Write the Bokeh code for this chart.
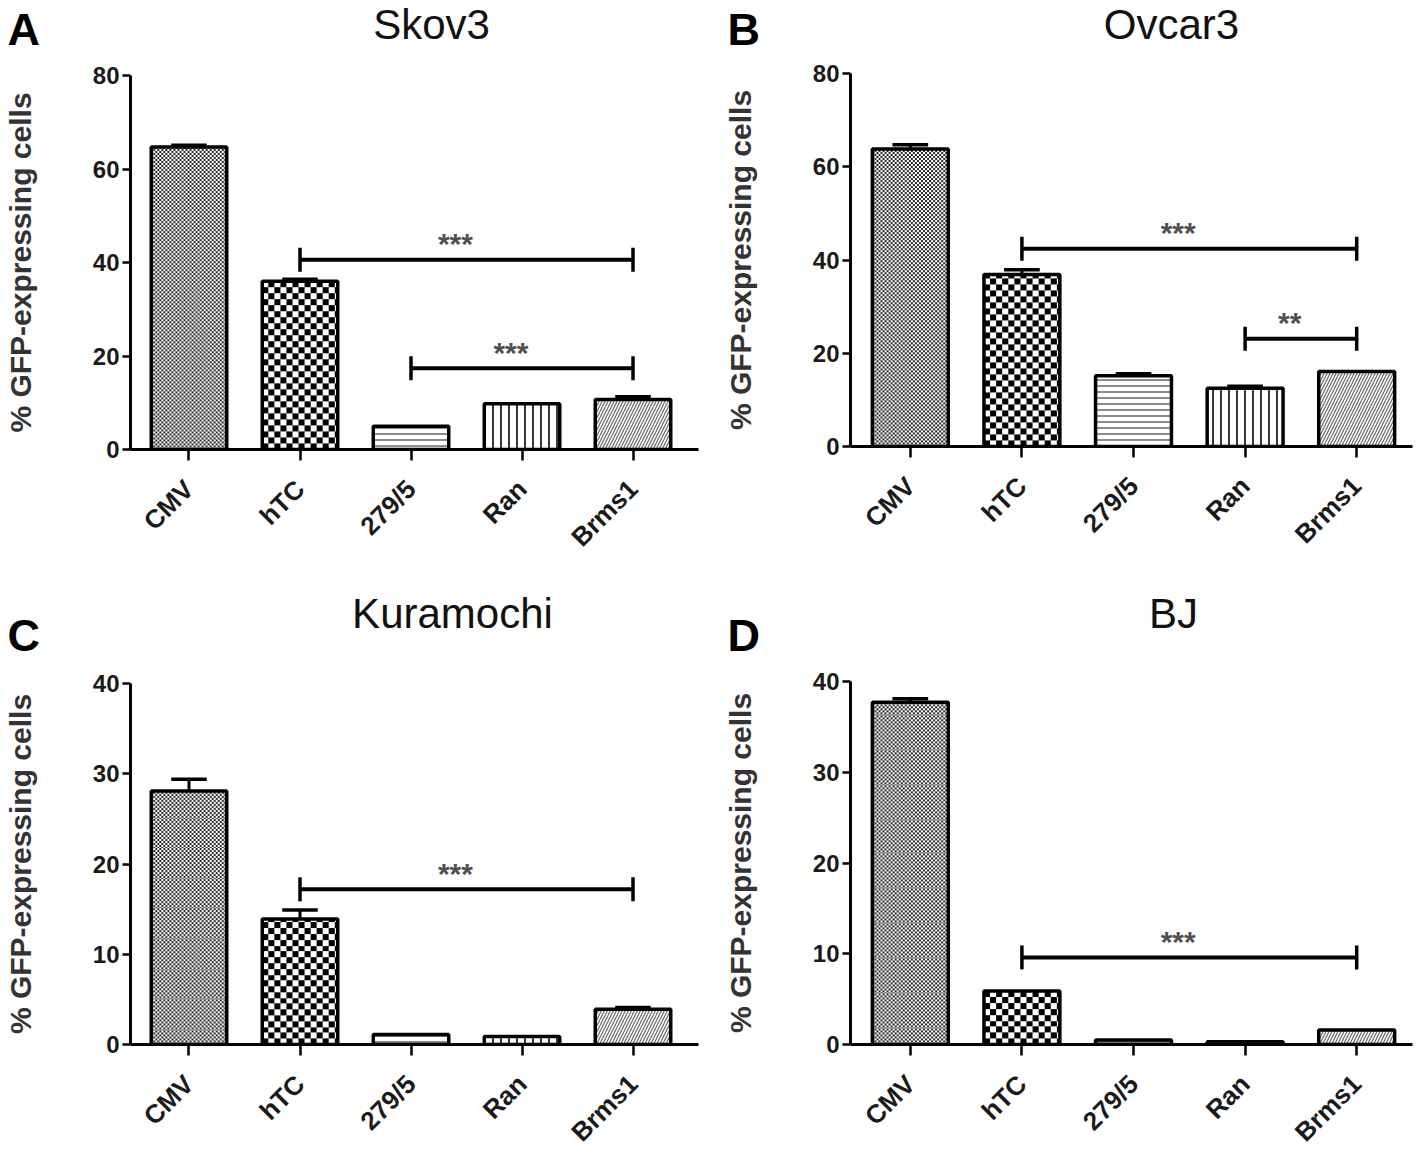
import numpy as np
from math import pi
from bokeh.plotting import figure
from bokeh.layouts import column, row
from bokeh.models import ColumnDataSource, Range1d, FixedTicker
from bokeh.embed import file_html
from bokeh.resources import INLINE
from bokeh.core.properties import value

# ---------------- data ----------------
categories = ["CMV", "hTC", "279/5", "Ran", "Brms1"]

skov3_values = [64.7, 36.0, 5.0, 9.8, 10.7]
skov3_errors = [0.4, 0.4, 0.0, 0.0, 0.6]
ovcar3_values = [63.8, 36.9, 15.2, 12.5, 16.1]
ovcar3_errors = [0.9, 1.0, 0.4, 0.4, 0.0]
kuramochi_values = [28.1, 13.9, 1.1, 0.9, 3.9]
kuramochi_errors = [1.3, 1.0, 0.0, 0.0, 0.2]
bj_values = [37.7, 5.9, 0.5, 0.3, 1.6]
bj_errors = [0.4, 0.0, 0.0, 0.0, 0.0]

skov3_brackets = [("hTC", "Brms1", 40.6, "***"), ("279/5", "Brms1", 17.4, "***")]
ovcar3_brackets = [("hTC", "Brms1", 42.4, "***"), ("Ran", "Brms1", 23.1, "**")]
kuramochi_brackets = [("hTC", "Brms1", 17.2, "***")]
bj_brackets = [("hTC", "Brms1", 9.6, "***")]

yticks_80 = [0, 20, 40, 60, 80]
yticks_40 = [0, 10, 20, 30, 40]

# ---------------- styles ----------------
FONT = "Liberation Sans"
BAR_W = 0.68
PX_PER_CAT = 112.0
bar_patterns = ["blank", "blank", "horizontal_line", "vertical_line", "right_diagonal_line"]
bar_hscales = [4, 12, 6, 8, 6]
bar_hweights = [1, 1, 1.4, 1.8, 1.2]
bar_hcolors = ["#262626", "#000000", "#5a5a5a", "#222222", "#666666"]
bar_falpha = [0.0, 0.0, 1.0, 1.0, 1.0]
# checkerboard fills: (category index, cell size px, dark colour)
checker_fills = [(0, 2, (45, 45, 45)), (1, 6, (0, 0, 0))]

LETTER_FS = 45
TITLE_FS = 42
BASELINE_SHIFT = 0.35  # empirical correction of the rendered baseline (em)


def checker_image(w_px, h_px, cell, rgb):
    rr, cc = np.mgrid[0:h_px, 0:w_px]
    dark = ((rr // cell + cc // cell) % 2) == 0
    img = np.empty((h_px, w_px), dtype=np.uint32)
    view = img.view(dtype=np.uint8).reshape((h_px, w_px, 4))
    view[..., 3] = 255
    for k in range(3):
        view[..., k] = np.where(dark, rgb[k], 255)
    return img


def header(cfg):
    W, hh = cfg["width"], cfg["header_h"]
    h = figure(width=W, height=hh, output_backend="svg", toolbar_location=None,
               x_range=Range1d(0, W), y_range=Range1d(hh, 0),
               min_border_left=0, min_border_right=0, min_border_top=0, min_border_bottom=0,
               x_axis_location=None, y_axis_location=None, frame_align=False,
               title=None, title_location=None)
    h.outline_line_color = None
    h.grid.visible = False
    h.background_fill_color = "white"
    h.border_fill_color = "white"
    lx, ly = cfg["letter_px"]
    h.text(x=[lx], y=[ly - BASELINE_SHIFT * LETTER_FS], text=[cfg["letter"]],
           text_align="left", text_baseline="alphabetic", text_font=value(FONT),
           text_font_style="bold", text_font_size=f"{LETTER_FS}px", text_color="#000000")
    tx, ty = cfg["title_px"]
    h.text(x=[tx], y=[ty - BASELINE_SHIFT * TITLE_FS], text=[cfg["title"]],
           text_align="center", text_baseline="alphabetic", text_font=value(FONT),
           text_font_style="normal", text_font_size=f"{TITLE_FS}px", text_color="#111111")
    return h


def panel(cfg, values, errors, brackets, yticks):
    ymax = yticks[-1]
    hh = cfg["header_h"]
    fl = cfg["frame_left"]
    ft = cfg["frame_top"] - hh
    fb = cfg["frame_bottom"] - hh
    x0, x1 = cfg["xr"]
    fw = (x1 - x0) * PX_PER_CAT
    fh = fb - ft
    ppu = fh / ymax
    W, H = cfg["width"], cfg["height"] - hh
    p = figure(width=W, height=H, output_backend="svg", toolbar_location=None,
               x_range=Range1d(x0, x1), y_range=Range1d(0, ymax),
               min_border_left=fl, min_border_top=ft,
               min_border_bottom=H - fb,
               min_border_right=int(round(W - fl - fw)), frame_align=False,
               title=None, title_location=None)
    p.outline_line_color = None
    p.xgrid.visible = False
    p.ygrid.visible = False
    p.background_fill_color = "white"
    p.border_fill_color = "white"

    xs = list(range(len(categories)))

    # checkerboard fills as images sitting inside the bars
    for idx, cell, rgb in checker_fills:
        wpx = int(round(BAR_W * PX_PER_CAT))
        hpx = max(1, int(round(values[idx] * ppu)))
        p.image_rgba(image=[checker_image(wpx, hpx, cell, rgb)], x=idx - BAR_W / 2, y=0,
                     dw=BAR_W, dh=values[idx])

    src = ColumnDataSource(dict(x=xs, top=values, pat=bar_patterns, hs=bar_hscales,
                                hw=bar_hweights, hc=bar_hcolors, fa=bar_falpha))
    p.vbar(x="x", top="top", bottom=0, width=BAR_W, source=src,
           fill_color="white", fill_alpha="fa", line_color="black", line_width=3.5,
           hatch_pattern="pat", hatch_scale="hs", hatch_weight="hw", hatch_color="hc")

    # error bars (upper only)
    ex, ey0, ey1 = [], [], []
    for i, (v, e) in enumerate(zip(values, errors)):
        if e > 0:
            ex.append(i); ey0.append(v); ey1.append(v + e)
    if ex:
        p.segment(x0=ex, y0=ey0, x1=ex, y1=ey1, line_color="black", line_width=3)
        p.segment(x0=[x - 0.16 for x in ex], y0=ey1, x1=[x + 0.16 for x in ex], y1=ey1,
                  line_color="black", line_width=3.5)

    # significance brackets
    for a, b, y, lab in brackets:
        ia, ib = categories.index(a), categories.index(b)
        p.segment(x0=[ia], y0=[y], x1=[ib], y1=[y], line_color="black", line_width=4)
        p.scatter(x=[ia, ib], y=[y, y], marker="dash", angle=pi / 2, size=24,
                  line_color="black", line_width=3.5)
        p.text(x=[(ia + ib) / 2 - 0.1], y=[y], text=[lab], y_offset=-16,
               text_align="center", text_baseline="alphabetic",
               text_font=value(FONT), text_font_size="30px", text_font_style="bold",
               text_color="#505050")

    # axes
    p.xaxis.ticker = FixedTicker(ticks=xs)
    p.xaxis.major_label_overrides = {i: c for i, c in enumerate(categories)}
    p.xaxis.major_label_orientation = pi / 4
    p.xaxis.minor_tick_line_color = None
    p.yaxis.ticker = FixedTicker(ticks=yticks)
    p.yaxis.minor_tick_line_color = None
    for ax in (p.xaxis[0], p.yaxis[0]):
        ax.axis_line_width = 3
        ax.axis_line_color = "black"
        ax.major_tick_line_width = 2.5
        ax.major_tick_line_color = "black"
        ax.major_tick_in = 0
        ax.major_label_text_font = FONT
        ax.major_label_text_font_style = "bold"
        ax.major_label_text_color = "#1a1a1a"
    p.xaxis.major_tick_out = 11
    p.xaxis.major_label_text_font_size = "26px"
    p.xaxis.major_label_standoff = 24
    p.yaxis.major_tick_out = 8
    p.yaxis.major_label_text_font_size = "24px"
    p.yaxis.major_label_standoff = 3
    p.yaxis.axis_label = "% GFP-expressing cells"
    p.yaxis.axis_label_text_font = FONT
    p.yaxis.axis_label_text_font_style = "bold"
    p.yaxis.axis_label_text_font_size = "30px"
    p.yaxis.axis_label_text_color = "#333333"
    p.yaxis.axis_label_standoff = 53
    return p


# layout settings; vertical values are relative to the top of each row
ROW1_H, ROW2_H = 565, 595
cfgA = dict(letter="A", title="Skov3", width=720, height=ROW1_H, header_h=52,
            frame_left=125, frame_top=75, frame_bottom=449, xr=(-0.527, 4.59),
            title_px=(431, 39), letter_px=(7, 45))
cfgB = dict(letter="B", title="Ovcar3", width=696, height=ROW1_H, header_h=52,
            frame_left=128, frame_top=73, frame_bottom=446, xr=(-0.536, 4.5),
            title_px=(451, 39), letter_px=(7, 45))
cfgC = dict(letter="C", title="Kuramochi", width=720, height=ROW2_H, header_h=95,
            frame_left=125, frame_top=683 - ROW1_H, frame_bottom=1056 - ROW1_H,
            xr=(-0.527, 4.59), title_px=(452, 628 - ROW1_H), letter_px=(7, 651 - ROW1_H))
cfgD = dict(letter="D", title="BJ", width=696, height=ROW2_H, header_h=95,
            frame_left=128, frame_top=681 - ROW1_H, frame_bottom=1054 - ROW1_H,
            xr=(-0.536, 4.5), title_px=(453, 628 - ROW1_H), letter_px=(7, 651 - ROW1_H))

cols = []
for cfg, vals, errs, brs, yt in [
        (cfgA, skov3_values, skov3_errors, skov3_brackets, yticks_80),
        (cfgB, ovcar3_values, ovcar3_errors, ovcar3_brackets, yticks_80),
        (cfgC, kuramochi_values, kuramochi_errors, kuramochi_brackets, yticks_40),
        (cfgD, bj_values, bj_errors, bj_brackets, yticks_40)]:
    cols.append(column(header(cfg), panel(cfg, vals, errs, brs, yt)))

layout = column(row(cols[0], cols[1]), row(cols[2], cols[3]))
open("out.html", "w").write(file_html(layout, INLINE))
